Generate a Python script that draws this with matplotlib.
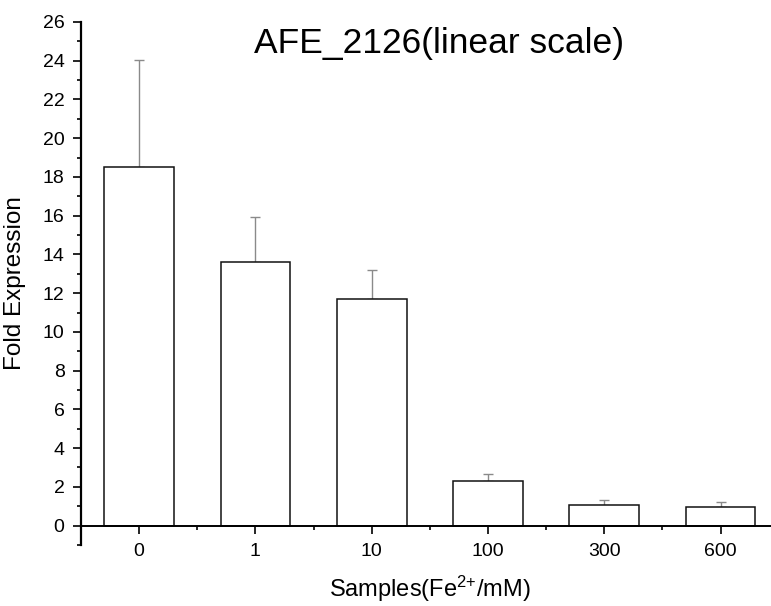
import matplotlib.pyplot as plt
from matplotlib.ticker import FixedLocator

plt.rcParams['font.family'] = ['Liberation Sans', 'DejaVu Sans']
plt.rcParams['mathtext.fontset'] = 'custom'
plt.rcParams['mathtext.rm'] = 'Liberation Sans'
plt.rcParams['mathtext.it'] = 'Liberation Sans:italic'

samples = ['0', '1', '10', '100', '300', '600']
fold = [18.5, 13.6, 11.7, 2.29, 1.08, 0.98]
err = [5.55, 2.35, 1.5, 0.35, 0.25, 0.24]

fig = plt.figure(figsize=(7.71, 6.06), dpi=100)
ax = fig.add_axes([0.105, 0.1007, 0.905, 0.863])

x = list(range(len(samples)))
ax.bar(x, fold, width=0.6, color='white', edgecolor='#111111', linewidth=1.1, zorder=2)
ax.errorbar(x, fold, yerr=[[0] * len(err), err], fmt='none', ecolor='#8a8a8a',
            elinewidth=1.0, capsize=3.3, capthick=1.0, zorder=1)

ax.set_xlim(-0.5, 5.5)
ax.set_ylim(-1, 26)
ax.spines['top'].set_visible(False)
ax.spines['right'].set_visible(False)
ax.spines['bottom'].set_position(('data', 0))
ax.spines['left'].set_linewidth(1.6)
ax.spines['bottom'].set_linewidth(1.4)

ax.set_xticks(x)
ax.set_xticklabels(samples)
ax.xaxis.set_minor_locator(FixedLocator([i + 0.5 for i in range(-1, 6)]))
ax.set_yticks(range(0, 27, 2))
ax.yaxis.set_minor_locator(FixedLocator(list(range(-1, 26, 2))))

ax.tick_params(axis='both', which='major', length=5.8, width=1.2, labelsize=14, direction='out')
ax.tick_params(axis='both', which='minor', length=3, width=1.2, direction='out')
ax.tick_params(axis='x', which='major', pad=7)
ax.tick_params(axis='y', which='major', pad=6)

ax.set_ylabel('Fold Expression', fontsize=17.5)
ax.set_xlabel('Samples(Fe$^{\\mathregular{2{+}}}$/mM)', fontsize=17)
ax.yaxis.set_label_coords(-0.079, 0.5)
ax.xaxis.set_label_coords(0.5, -0.055)

ax.text(0.513, 0.958, 'AFE_2126(linear scale)', transform=ax.transAxes,
        ha='center', va='center', fontsize=25.5)

fig.savefig('out.png', dpi=100)
